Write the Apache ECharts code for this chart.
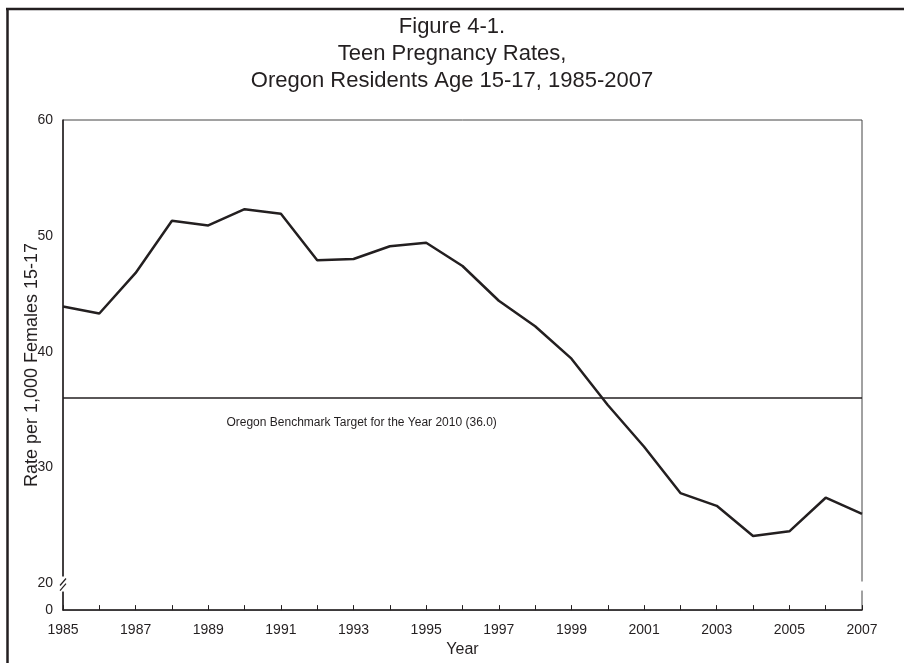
<!DOCTYPE html>
<html>
<head>
<meta charset="utf-8">
<script src="https://cdn.jsdelivr.net/npm/echarts@6/dist/echarts.min.js"></script>
<style>
  html, body { margin: 0; padding: 0; background: #fff; }
  #chart { width: 904px; height: 663px; }
</style>
</head>
<body>
<div id="chart"></div>
<script>
// --- data ---
const years = ['1985', '1986', '1987', '1988', '1989', '1990', '1991', '1992', '1993', '1994', '1995', '1996',
    '1997', '1998', '1999', '2000', '2001', '2002', '2003', '2004', '2005', '2006', '2007'];
const rates = [43.9, 43.3, 46.8, 51.3, 50.9, 52.3, 51.9, 47.9, 48.0, 49.1, 49.4, 47.4,
    44.4, 42.2, 39.4, 35.4, 31.8, 27.8, 26.7, 24.1, 24.5, 27.4, 26.0];
const benchmark = 36.0;
const yTickValues = [17.7, 20, 30, 40, 50, 60]; // 17.7 = bottom of broken axis, shown as "0"
const yMin = 17.7;
const yMax = 60;

const ink = '#231f20';
const font = '"Liberation Sans", Arial, sans-serif';

const chart = echarts.init(document.getElementById('chart'));

chart.setOption({
    backgroundColor: '#fff',
    animation: false,
    title: {
        text: 'Figure 4-1.\nTeen Pregnancy Rates,\nOregon Residents Age 15-17, 1985-2007',
        left: 'center',
        top: 8,
        textStyle: { color: ink, fontFamily: font, fontSize: 22, fontWeight: 'normal', lineHeight: 27, align: 'center' }
    },
    grid: { left: 63, right: 42, top: 120, bottom: 52, show: true, borderColor: '#444', borderWidth: 1 },
    xAxis: {
        type: 'category',
        data: years,
        boundaryGap: false,
        name: 'Year',
        nameLocation: 'middle',
        nameGap: 29,
        nameTextStyle: { color: ink, fontFamily: font, fontSize: 16 },
        axisLine: { lineStyle: { color: ink, width: 1.5 } },
        axisTick: { show: true, inside: true, length: 5, interval: 0, lineStyle: { color: ink, width: 1 } },
        axisLabel: { interval: 1, color: ink, fontFamily: font, fontSize: 14, margin: 13 },
        splitLine: { show: false }
    },
    yAxis: {
        type: 'value',
        min: yMin,
        max: yMax,
        name: 'Rate per 1,000 Females 15-17',
        nameLocation: 'middle',
        nameGap: 22,
        nameMoveOverlap: false,
        nameTextStyle: { color: ink, fontFamily: font, fontSize: 18 },
        axisLine: { show: true, lineStyle: { color: ink, width: 1.5 } },
        axisTick: { show: false },
        axisLabel: {
            customValues: yTickValues,
            color: ink, fontFamily: font, fontSize: 14, margin: 10,
            formatter: v => (v < 19 ? '0' : String(Math.round(v)))
        },
        splitLine: { show: false }
    },
    series: [{
        type: 'line',
        data: rates,
        symbol: 'none',
        lineStyle: { color: ink, width: 2.5 },
        markLine: {
            silent: true,
            symbol: 'none',
            label: { show: false },
            lineStyle: { color: ink, width: 1.5, type: 'solid' },
            data: [{ yAxis: benchmark }]
        }
    }]
});

// --- decorations: axis break marks, benchmark label, outer frame ---
const px = (i, v) => chart.convertToPixel({ gridIndex: 0 }, [i, v]);
const left = px(0, 20)[0];
const right = px(years.length - 1, 20)[0];
const gapTop = px(0, 20.6)[1];
const gapBot = px(0, 19.3)[1];
const benchY = px(0, benchmark)[1];
const labelX = (px(4, 0)[0] + px(5, 0)[0]) / 2;

chart.setOption({
    graphic: [
        { type: 'rect', shape: { x: left - 3, y: gapTop, width: 6, height: gapBot - gapTop }, style: { fill: '#fff' }, z: 100 },
        { type: 'rect', shape: { x: right - 3, y: gapTop + 5, width: 6, height: gapBot - gapTop - 6 }, style: { fill: '#fff' }, z: 100 },
        { type: 'line', shape: { x1: left - 3, y1: gapTop + 9, x2: left + 3, y2: gapTop + 2 }, style: { stroke: ink, lineWidth: 1.2 }, z: 101 },
        { type: 'line', shape: { x1: left - 3, y1: gapBot - 1, x2: left + 3, y2: gapBot - 8 }, style: { stroke: ink, lineWidth: 1.2 }, z: 101 },
        {
            type: 'text', x: labelX, y: benchY + 25, z: 101,
            style: { text: 'Oregon Benchmark Target for the Year 2010 (36.0)', fill: ink, font: '12px ' + font, textVerticalAlign: 'middle' }
        },
        { type: 'line', shape: { x1: 6, y1: 9, x2: 904, y2: 9 }, style: { stroke: ink, lineWidth: 2.5 }, z: 101 },
        { type: 'line', shape: { x1: 7.5, y1: 9, x2: 7.5, y2: 663 }, style: { stroke: ink, lineWidth: 2.5 }, z: 101 }
    ]
});

window.addEventListener('resize', () => chart.resize());
</script>
</body>
</html>
